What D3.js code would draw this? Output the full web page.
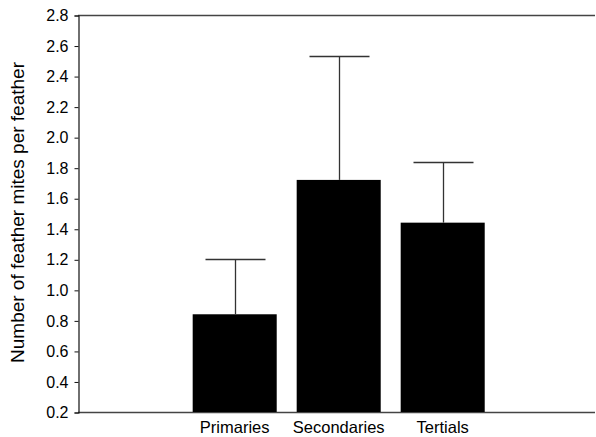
<!DOCTYPE html>
<html><head><meta charset="utf-8">
<script src="https://cdn.jsdelivr.net/npm/d3@7"></script>
<style>body{margin:0;background:#fff;} text{font-family:"Liberation Sans",Arial,sans-serif;}</style>
</head><body>
<svg id="c" width="596" height="437"></svg>
<script>
const categories = ["Primaries", "Secondaries", "Tertials"];
const means = [0.84, 1.72, 1.44];
const upperErr = [1.20, 2.53, 1.835];
const yTicks = [0.2, 0.4, 0.6, 0.8, 1.0, 1.2, 1.4, 1.6, 1.8, 2.0, 2.2, 2.4, 2.6, 2.8];
const yLabel = "Number of feather mites per feather";

(function () {
const svg = d3.select("#c");
const mLeft = 78, mRight = 595, mTop = 15, mBottom = 412;
const y = d3.scaleLinear().domain([0.2, 2.8]).range([mBottom, mTop]);
const x = d3.scaleBand().domain(categories).range([182.7, 494.7]).paddingInner(0.192).paddingOuter(0.096);
const lineColor = "#444";

svg.append("line").attr("x1", mLeft).attr("x2", mRight).attr("y1", mTop + 0.5).attr("y2", mTop + 0.5).attr("stroke", lineColor).attr("stroke-width", 1.3);
svg.append("line").attr("x1", mLeft).attr("x2", mRight).attr("y1", mBottom + 0.5).attr("y2", mBottom + 0.5).attr("stroke", lineColor).attr("stroke-width", 1.3);

const yAxis = d3.axisLeft(y).tickValues(yTicks).tickFormat(d3.format(".1f")).tickSizeOuter(0).tickSize(4).tickPadding(6);
const gy = svg.append("g").attr("transform", `translate(${mLeft + 0.5},0.5)`).call(yAxis);
gy.select(".domain").attr("stroke", "#111").attr("stroke-width", 1.2);
gy.selectAll(".tick line").attr("stroke", "#111");
gy.selectAll("text").attr("font-size", 16).attr("fill", "#000").attr("font-family", "'Liberation Sans', Arial, sans-serif");

svg.append("g").selectAll("rect").data(categories).join("rect")
  .attr("x", d => x(d))
  .attr("width", x.bandwidth())
  .attr("y", (d, i) => y(means[i]))
  .attr("height", (d, i) => y(0.2) - y(means[i]))
  .attr("fill", "#000");

const capW = 60;
const eg = svg.append("g").attr("stroke", "#333").attr("stroke-width", 1.3);
categories.forEach((c, i) => {
  const cx = Math.round(x(c) + x.bandwidth() / 2) + 0.5;
  eg.append("line").attr("x1", cx).attr("x2", cx).attr("y1", y(means[i])).attr("y2", y(upperErr[i]));
  eg.append("line").attr("x1", cx - capW / 2).attr("x2", cx + capW / 2).attr("y1", Math.round(y(upperErr[i])) + 0.5).attr("y2", Math.round(y(upperErr[i])) + 0.5);
});

svg.append("g").selectAll("text").data(categories).join("text")
  .attr("x", d => x(d) + x.bandwidth() / 2)
  .attr("y", 433)
  .attr("text-anchor", "middle")
  .attr("font-size", 16.5)
  .text(d => d);

svg.append("text")
  .attr("transform", `translate(24,212.5) rotate(-90)`)
  .attr("text-anchor", "middle")
  .attr("font-size", 19)
  .text(yLabel);
})();
</script>
</body></html>
